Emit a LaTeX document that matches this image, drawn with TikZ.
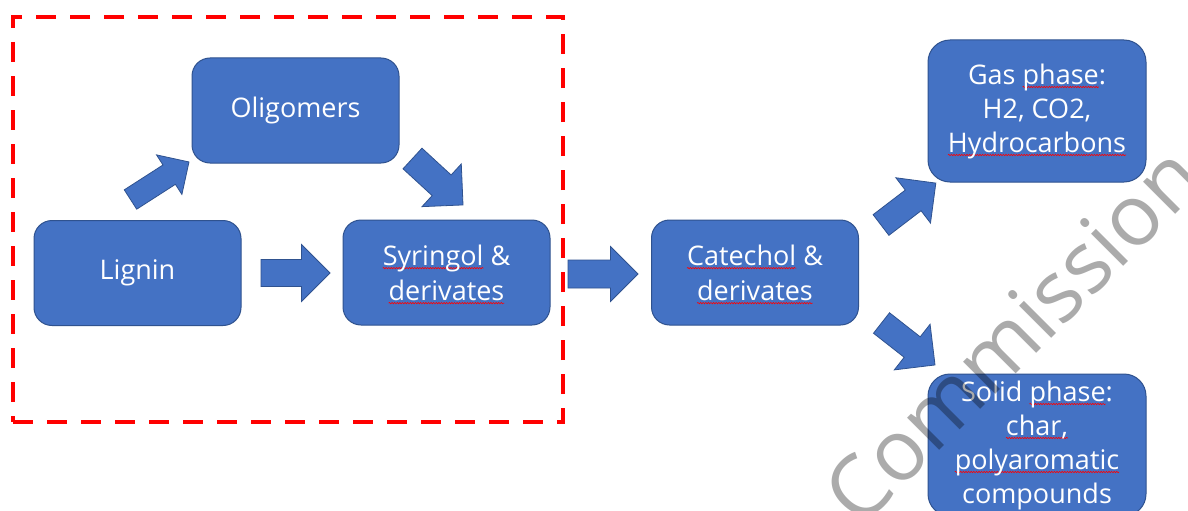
\documentclass[tikz,border=0pt]{standalone}
\usepackage{fontspec}
\setmainfont{Open Sans}
\usetikzlibrary{decorations.pathmorphing}
\definecolor{boxblue}{HTML}{4472C4}
\definecolor{boxline}{HTML}{2F528F}
\definecolor{dashred}{HTML}{FF0000}
\tikzset{squig/.style={draw=dashred, fill=none, sharp corners, solid, line width=0.6pt, decorate, decoration={snake, amplitude=0.7pt, segment length=2.6pt}}}
\newcommand\sqw[1]{\setbox0=\hbox{#1}\rlap{\tikz[overlay,baseline=0pt]\draw[squig] (0pt,-3pt) -- (\wd0,-3pt);}\box0\relax}
% block arrow: name, tail point, angle, length, head width, shaft width
\newcommand\blockarrow[6]{%
  \begin{scope}[shift={#2}, rotate=#3]
    \draw[blk] (0,{-#6/2}) -- ({#4-#5/2},{-#6/2}) -- ({#4-#5/2},{-#5/2}) -- (#4,0)
      -- ({#4-#5/2},{#5/2}) -- ({#4-#5/2},{#6/2}) -- (0,{#6/2}) -- cycle;
    \coordinate (#1-tail) at (0,0);
    \coordinate (#1-tip) at (#4,0);
  \end{scope}}
\begin{document}
\begin{tikzpicture}[x=1pt,y=-1pt,
  box/.style={draw=boxline, line width=1pt, fill=boxblue, rounded corners=18pt, text=white, align=center, inner sep=0pt, minimum width=207pt, minimum height=105pt, font=\fontsize{27}{35}\selectfont},
  bigbox/.style={box, rounded corners=22pt, minimum width=218pt, minimum height=142pt, font=\fontsize{27}{34}\selectfont},
  blk/.style={draw=boxline, line width=0.8pt, fill=boxblue, line join=miter},
  frame/.style={draw=dashred, line width=4pt, dash pattern=on 20pt off 14pt, inner sep=0pt, minimum width=550pt, minimum height=405pt},
  wmark/.style={rotate=45, anchor=base west, text=black, opacity=0.33, inner sep=0pt, font=\fontsize{85}{85}\selectfont}
]
\useasboundingbox (0,0) rectangle (1188,511);
\fill[white] (0,0) rectangle (1188,511);

\node[frame] (fr) at (288,219.5) {};

\node[box] (olig) at (295.5,110.5) {Oligomers};
\node[box] (lig) at (137.5,273) {Lignin};
\node[box] (syr) at (446.5,272.5) {\sqw{Syringol} \&\\\sqw{derivates}};
\node[box] (cat) at (755,272.5) {\sqw{Catechol} \&\\\sqw{derivates}};
\node[bigbox] (gas) at (1037,111) {Gas \sqw{phase}:\\H2, CO2,\\\sqw{Hydrocarbons}};
\node[bigbox] (sol) at (1037,445) {Solid \sqw{phase}:\\\sqw{char,}\\\sqw{polyaromatic}\\compounds};

\blockarrow{a1}{(130.5,199.5)}{32.7}{69.5}{47}{23}
\blockarrow{a2}{(412.5,158.5)}{-42.6}{68.6}{58}{28}
\blockarrow{a3}{(261,273)}{0}{69}{57}{27}
\blockarrow{a4}{(568,274)}{0}{70}{55}{28}
\blockarrow{a5}{(881,225)}{37.4}{69}{57}{26}
\blockarrow{a6}{(881.5,323)}{-38.1}{68}{58}{26}

\node[wmark] (wm) at (860,530) {Commission};
\end{tikzpicture}
\end{document}
